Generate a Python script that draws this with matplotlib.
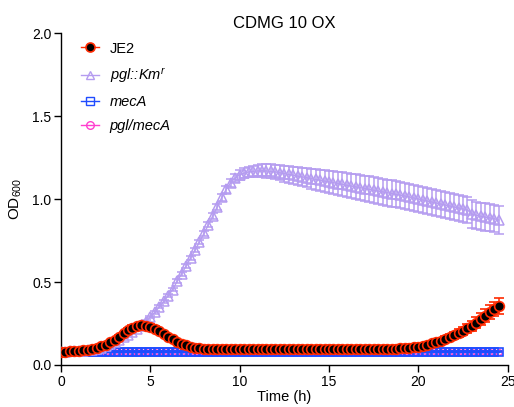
"""Growth curves in CDMG 10 OX: JE2 vs pgl::Km^r, mecA and pgl/mecA."""
import numpy as np
import matplotlib
matplotlib.use("Agg")
import matplotlib.pyplot as plt
from matplotlib.lines import Line2D

plt.rcParams["font.family"] = ["Liberation Sans", "DejaVu Sans"]
plt.rcParams["mathtext.fontset"] = "custom"
plt.rcParams["mathtext.rm"] = "Liberation Sans"
plt.rcParams["mathtext.it"] = "Liberation Sans:italic"

# sampling every 15 min, 0 .. 24.5 h
time_h = np.arange(0, 24.75, 0.25)

je2 = [
    0.080, 0.081, 0.082, 0.084, 0.086, 0.089, 0.093, 0.098, 0.105,
    0.113, 0.123, 0.136, 0.152, 0.170, 0.190, 0.210, 0.226,
    0.236, 0.240, 0.238, 0.232, 0.220, 0.205, 0.188, 0.171,
    0.155, 0.141, 0.129, 0.119, 0.111, 0.105, 0.101, 0.098,
    0.096, 0.095, 0.095, 0.094, 0.094, 0.094, 0.094, 0.094,
    0.094, 0.094, 0.094, 0.094, 0.094, 0.094, 0.094, 0.094,
    0.094, 0.094, 0.094, 0.094, 0.094, 0.094, 0.094, 0.094,
    0.094, 0.094, 0.094, 0.095, 0.095, 0.095, 0.095, 0.095,
    0.095, 0.095, 0.095, 0.095, 0.096, 0.096, 0.096, 0.096,
    0.097, 0.098, 0.099, 0.100, 0.102, 0.104, 0.107, 0.111,
    0.117, 0.123, 0.130, 0.138, 0.147, 0.157, 0.168, 0.180,
    0.193, 0.207, 0.222, 0.238, 0.256, 0.276, 0.297, 0.318, 0.337, 0.355,
]
je2_err = [
    0.004, 0.004, 0.004, 0.004, 0.004, 0.005, 0.005, 0.005, 0.006,
    0.006, 0.007, 0.008, 0.009, 0.010, 0.011, 0.012, 0.013,
    0.014, 0.015, 0.015, 0.015, 0.015, 0.014, 0.013, 0.012,
    0.011, 0.010, 0.009, 0.008, 0.007, 0.006, 0.006, 0.005,
    0.005, 0.005, 0.005, 0.005, 0.005, 0.005, 0.005, 0.005,
    0.005, 0.005, 0.005, 0.005, 0.005, 0.005, 0.005, 0.005,
    0.005, 0.005, 0.005, 0.005, 0.005, 0.005, 0.005, 0.005,
    0.005, 0.005, 0.005, 0.005, 0.005, 0.005, 0.005, 0.005,
    0.005, 0.005, 0.005, 0.005, 0.005, 0.005, 0.005, 0.006,
    0.006, 0.006, 0.007, 0.007, 0.008, 0.008, 0.009, 0.010,
    0.011, 0.012, 0.013, 0.014, 0.016, 0.017, 0.019, 0.021,
    0.023, 0.025, 0.027, 0.030, 0.033, 0.036, 0.039, 0.042, 0.044, 0.046,
]

pgl_km = [
    0.080, 0.081, 0.082, 0.083, 0.085, 0.087, 0.089, 0.092, 0.096,
    0.104, 0.113, 0.124, 0.137, 0.151, 0.166, 0.183, 0.201,
    0.220, 0.238, 0.262, 0.289, 0.318, 0.350, 0.383, 0.418,
    0.455, 0.505, 0.550, 0.597, 0.645, 0.693, 0.742, 0.793,
    0.846, 0.900, 0.955, 1.010, 1.060, 1.100, 1.128, 1.146,
    1.157, 1.164, 1.168, 1.170, 1.171, 1.170, 1.167, 1.164,
    1.159, 1.154, 1.149, 1.144, 1.139, 1.134, 1.129, 1.124,
    1.119, 1.114, 1.109, 1.104, 1.099, 1.094, 1.089, 1.084,
    1.079, 1.074, 1.069, 1.064, 1.059, 1.054, 1.049, 1.044,
    1.039, 1.034, 1.029, 1.024, 1.019, 1.013, 1.007, 1.001,
    0.995, 0.989, 0.983, 0.977, 0.971, 0.965, 0.959, 0.953,
    0.947, 0.941, 0.935, 0.910, 0.903, 0.897, 0.892, 0.887, 0.882, 0.874,
]
pgl_km_err = [
    0.003, 0.003, 0.003, 0.003, 0.003, 0.003, 0.004, 0.004, 0.004,
    0.004, 0.005, 0.005, 0.005, 0.006, 0.006, 0.006, 0.007,
    0.007, 0.007, 0.008, 0.008, 0.008, 0.009, 0.009, 0.010,
    0.010, 0.011, 0.011, 0.012, 0.012, 0.013, 0.014, 0.015,
    0.016, 0.017, 0.018, 0.020, 0.022, 0.024, 0.026, 0.028,
    0.030, 0.032, 0.034, 0.036, 0.038, 0.040, 0.042, 0.044,
    0.046, 0.048, 0.050, 0.052, 0.054, 0.056, 0.058, 0.060,
    0.062, 0.064, 0.066, 0.068, 0.070, 0.071, 0.072, 0.073,
    0.074, 0.075, 0.076, 0.077, 0.078, 0.078, 0.078, 0.079,
    0.079, 0.079, 0.079, 0.080, 0.080, 0.080, 0.080, 0.080,
    0.080, 0.080, 0.080, 0.080, 0.080, 0.080, 0.080, 0.080,
    0.080, 0.080, 0.080, 0.082, 0.082, 0.082, 0.082, 0.082, 0.082, 0.082,
]

mec_a = [
    0.080, 0.080, 0.080, 0.080, 0.080, 0.080, 0.080, 0.080, 0.080,
    0.080, 0.080, 0.080, 0.080, 0.080, 0.080, 0.080, 0.080,
    0.080, 0.080, 0.080, 0.080, 0.080, 0.080, 0.080, 0.080,
    0.080, 0.080, 0.080, 0.080, 0.080, 0.080, 0.080, 0.080,
    0.080, 0.080, 0.080, 0.080, 0.080, 0.080, 0.080, 0.080,
    0.080, 0.080, 0.080, 0.080, 0.080, 0.080, 0.080, 0.080,
    0.080, 0.080, 0.080, 0.080, 0.080, 0.080, 0.080, 0.080,
    0.080, 0.080, 0.080, 0.080, 0.080, 0.080, 0.080, 0.080,
    0.080, 0.080, 0.080, 0.080, 0.080, 0.080, 0.080, 0.080,
    0.080, 0.080, 0.080, 0.080, 0.080, 0.080, 0.080, 0.080,
    0.080, 0.080, 0.080, 0.080, 0.080, 0.080, 0.080, 0.080,
    0.080, 0.080, 0.080, 0.080, 0.080, 0.080, 0.080, 0.080, 0.080, 0.080,
]
pgl_mec_a = [
    0.079, 0.079, 0.079, 0.079, 0.079, 0.079, 0.079, 0.079, 0.079,
    0.079, 0.079, 0.079, 0.079, 0.079, 0.079, 0.079, 0.079,
    0.079, 0.079, 0.079, 0.079, 0.079, 0.079, 0.079, 0.079,
    0.079, 0.079, 0.079, 0.079, 0.079, 0.079, 0.079, 0.079,
    0.079, 0.079, 0.079, 0.079, 0.079, 0.079, 0.079, 0.079,
    0.079, 0.079, 0.079, 0.079, 0.079, 0.079, 0.079, 0.079,
    0.079, 0.079, 0.079, 0.079, 0.079, 0.079, 0.079, 0.079,
    0.079, 0.079, 0.079, 0.079, 0.079, 0.079, 0.079, 0.079,
    0.079, 0.079, 0.079, 0.079, 0.079, 0.079, 0.079, 0.079,
    0.079, 0.079, 0.079, 0.079, 0.079, 0.079, 0.079, 0.079,
    0.079, 0.079, 0.079, 0.079, 0.079, 0.079, 0.079, 0.079,
    0.079, 0.079, 0.079, 0.079, 0.079, 0.079, 0.079, 0.079, 0.079, 0.079,
]

labels = ["JE2", r"pgl::Km$^{\mathit{r}}$", "mecA", "pgl/mecA"]
RED, BLACK = "#ff2a00", "#000000"
LAV = "#b59cf0"
BLUE = "#1f4cff"
PINK = "#ff3ecf"

fig = plt.figure(figsize=(5.14, 4.07), dpi=100)
ax = fig.add_axes([0.1187, 0.1032, 0.8690, 0.8150])

# back to front: pgl/mecA, mecA, pgl::Km, JE2
ax.errorbar(time_h, pgl_mec_a, yerr=0.002, color=PINK, marker="o", ms=4,
            mfc="white", mew=1.0, lw=1.0, capsize=2, elinewidth=1.0, zorder=2)
ax.errorbar(time_h, mec_a, yerr=0.002, color=BLUE, marker="s", ms=5.5,
            mfc="none", mew=1.2, lw=1.0, capsize=2, elinewidth=1.0, zorder=3)
ax.errorbar(time_h, pgl_km, yerr=pgl_km_err, color=LAV, marker="^", ms=6.5,
            mfc="none", mew=1.1, lw=1.0, capsize=3.5, elinewidth=1.1, zorder=4)
ax.errorbar(time_h, je2, yerr=je2_err, color=RED, marker="o", ms=7,
            mfc=BLACK, mec=RED, mew=1.2, lw=1.0, capsize=3.5, elinewidth=1.1,
            zorder=5)

ax.set_xlim(0, 25)
ax.set_ylim(0, 2.0)
ax.set_xticks([0, 5, 10, 15, 20, 25])
ax.set_yticks([0.0, 0.5, 1.0, 1.5, 2.0])
ax.set_yticklabels(["0.0", "0.5", "1.0", "1.5", "2.0"])
for side in ("top", "right"):
    ax.spines[side].set_visible(False)
for side in ("left", "bottom"):
    ax.spines[side].set_linewidth(1.0)
ax.tick_params(direction="out", length=5, width=1.0, labelsize=10, pad=2)
ax.set_xlabel("Time (h)", fontsize=10.5, labelpad=1)
ax.set_ylabel(r"OD$_{\mathrm{600}}$", fontsize=11, labelpad=6)
ax.set_title("CDMG 10 OX", fontsize=12, pad=4)

handles = [
    Line2D([], [], color=RED, marker="o", ms=6.5, mfc=BLACK, mec=RED, mew=1.2, lw=1.0),
    Line2D([], [], color=LAV, marker="^", ms=6, mfc="none", lw=1.0),
    Line2D([], [], color=BLUE, marker="s", ms=5.5, mfc="none", lw=1.0),
    Line2D([], [], color=PINK, marker="o", ms=5.5, mfc="none", lw=1.0),
]
leg = ax.legend(handles, labels, loc="upper left", bbox_to_anchor=(0.045, 0.975),
                frameon=False, fontsize=10.5, handlelength=1.25,
                handletextpad=0.7, labelspacing=0.7, borderpad=0,
                borderaxespad=0)
for t in leg.get_texts()[1:]:
    t.set_fontstyle("italic")

fig.savefig("out.png", dpi=100)
